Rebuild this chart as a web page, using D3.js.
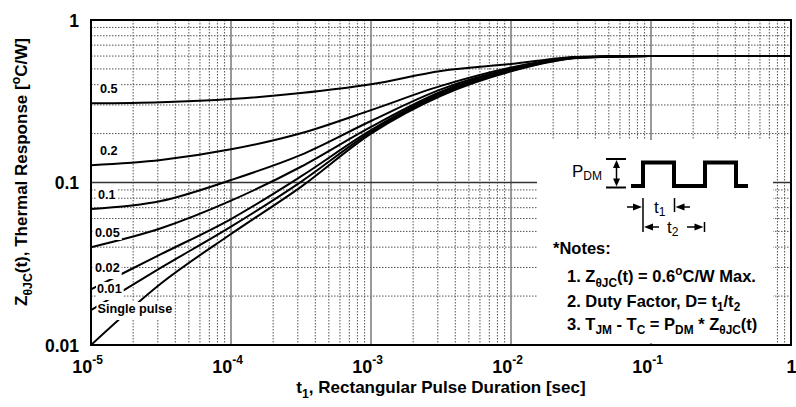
<!DOCTYPE html>
<html>
<head>
<meta charset="utf-8">
<script src="https://cdn.jsdelivr.net/npm/d3@7"></script>
<style>
  body { margin: 0; background: #fff; }
  svg text { font-family: "Liberation Sans", Arial, sans-serif; font-weight: bold; fill: #000; }
</style>
</head>
<body>
<div id="chart"></div>
<script>
// pulse duration samples (sec)
var durations = [1e-5, 3.16e-5, 1e-4, 3.16e-4, 1e-3, 3.16e-3, 1e-2, 3.16e-2, 1e-1, 1]

// Z thetaJC(t) per duty factor
var singlePulse = [0.0100, 0.0239, 0.0482, 0.094, 0.200, 0.342, 0.483, 0.585, 0.600, 0.600]
var duty001 = [0.0164, 0.0299, 0.0535, 0.101, 0.205, 0.349, 0.487, 0.587, 0.600, 0.600]
var duty002 = [0.0220, 0.0362, 0.0596, 0.109, 0.210, 0.354, 0.490, 0.588, 0.600, 0.600]
var duty005 = [0.0400, 0.0523, 0.0773, 0.125, 0.220, 0.362, 0.495, 0.589, 0.600, 0.600]
var duty01 = [0.0687, 0.0770, 0.1036, 0.148, 0.239, 0.374, 0.500, 0.590, 0.600, 0.600]
var duty02 = [0.1276, 0.1375, 0.160, 0.201, 0.279, 0.393, 0.510, 0.592, 0.600, 0.600]
var duty05 = [0.307, 0.312, 0.326, 0.355, 0.402, 0.486, 0.536, 0.595, 0.600, 0.600]

var seriesNames = ["Single pulse", "0.01", "0.02", "0.05", "0.1", "0.2", "0.5"]
var seriesValues = [singlePulse, duty001, duty002, duty005, duty01, duty02, duty05]

var xTicks = [1e-5, 1e-4, 1e-3, 1e-2, 1e-1, 1]
var xTickExp = ["-5", "-4", "-3", "-2", "-1", ""]
var yTicks = [0.01, 0.1, 1]
var yTickLabels = ["0.01", "0.1", "1"]

var W = 796, H = 407
var margin = {top: 20, right: 5, bottom: 62, left: 91}
var plotW = W - margin.left - margin.right,
    plotH = H - margin.top - margin.bottom

var svg = d3.select("#chart").append("svg")
    .attr("width", W)
    .attr("height", H)

var x = d3.scaleLog().domain([1e-5, 1]).range([margin.left, margin.left + plotW])
var y = d3.scaleLog().domain([0.01, 1]).range([margin.top + plotH, margin.top])

// minor grid values
var xMinor = [], yMinor = []
xTicks.slice(0, -1).forEach(function(d) { for (var k = 2; k <= 9; k++) xMinor.push(d * k) })
yTicks.slice(0, -1).forEach(function(d) { for (var k = 2; k <= 9; k++) yMinor.push(d * k) })

var grid = svg.append("g")
grid.selectAll(".vmin").data(xMinor).enter().append("line")
  .attr("x1", function(d) { return x(d) }).attr("x2", function(d) { return x(d) })
  .attr("y1", y(1)).attr("y2", y(0.01))
  .attr("stroke", "#555").attr("stroke-width", 1).attr("stroke-dasharray", "1.5,1.5")
grid.selectAll(".hmin").data(yMinor).enter().append("line")
  .attr("y1", function(d) { return y(d) }).attr("y2", function(d) { return y(d) })
  .attr("x1", x(1e-5)).attr("x2", x(1))
  .attr("stroke", "#555").attr("stroke-width", 1).attr("stroke-dasharray", "1.5,1.5")
grid.selectAll(".vmaj").data(xTicks.slice(1, -1)).enter().append("line")
  .attr("x1", function(d) { return x(d) }).attr("x2", function(d) { return x(d) })
  .attr("y1", y(1)).attr("y2", y(0.01))
  .attr("stroke", "#777").attr("stroke-width", 1.5)
grid.append("line")
  .attr("x1", x(1e-5)).attr("x2", x(1)).attr("y1", y(0.1)).attr("y2", y(0.1))
  .attr("stroke", "#333").attr("stroke-width", 1.3)

svg.append("clipPath").attr("id", "plotClip")
  .append("rect").attr("x", margin.left).attr("y", margin.top).attr("width", plotW).attr("height", plotH)

var line = d3.line()
  .x(function(d) { return x(d[0]) })
  .y(function(d) { return y(d[1]) })
  .curve(d3.curveMonotoneX)

svg.append("g").attr("clip-path", "url(#plotClip)")
  .selectAll(".curve").data(seriesValues).enter().append("path")
  .attr("class", "curve")
  .attr("fill", "none").attr("stroke", "#000").attr("stroke-width", 2)
  .attr("d", function(vals) { return line(durations.map(function(t, i) { return [t, vals[i]] })) })

// curve labels (left edge)
var labelPos = [[97.5, 313], [97, 293], [95, 272], [95, 237], [98, 198.5], [100, 154.5], [100, 92.5]]
var labels = svg.append("g")
seriesNames.forEach(function(name, i) {
  var g = labels.append("g")
  var t = g.append("text").attr("x", labelPos[i][0]).attr("y", labelPos[i][1])
    .attr("font-size", 12.7).text(name)
  var bb = t.node().getBBox()
  var padB = i < 3 ? 4 : 0
  g.insert("rect", "text").attr("x", bb.x - 1).attr("y", bb.y)
    .attr("width", bb.width + 3).attr("height", bb.height + padB).attr("fill", "#fff")
})

// inset box for notes
svg.append("rect").attr("x", 537).attr("y", 140).attr("width", 236).attr("height", 203).attr("fill", "#fff")

// frame
svg.append("rect").attr("x", margin.left).attr("y", margin.top).attr("width", plotW).attr("height", plotH)
  .attr("fill", "none").attr("stroke", "#000").attr("stroke-width", 2)

// y axis
var yAxis = svg.append("g").attr("transform", "translate(" + (margin.left - 12) + ",0)")
  .call(d3.axisLeft(y).tickValues(yTicks).tickSize(0).tickFormat(function(d, i) { return yTickLabels[i] }))
yAxis.select(".domain").remove()
yAxis.selectAll("text").attr("font-size", 17.5).attr("font-family", null).attr("x", 0).attr("dy", "0.36em")

// x axis
var xAxis = svg.append("g").attr("transform", "translate(0," + (margin.top + plotH) + ")")
  .call(d3.axisBottom(x).tickValues(xTicks).tickSize(0).tickFormat(""))
xAxis.select(".domain").remove()
xAxis.selectAll(".tick").each(function(d, i) {
  var tx = d3.select(this).select("text").attr("font-size", 18).attr("font-family", null)
    .attr("y", 28).attr("dy", 0)
  if (xTickExp[i] === "") {
    tx.text("1").attr("text-anchor", "middle")
  } else {
    tx.text("10").attr("text-anchor", "middle").attr("dx", "-0.22em")
    tx.append("tspan").attr("font-size", 12).attr("dy", -9).text(xTickExp[i])
  }
})

function rich(sel, parts, size) {
  var shift = 0
  parts.forEach(function(p) {
    var ts = sel.append("tspan").text(p[0])
    var target = 0
    if (p[1] === "sub") { target = size * 0.3; ts.attr("font-size", size * 0.72) }
    if (p[1] === "sup") { target = -size * 0.42; ts.attr("font-size", size * 0.72) }
    if (target !== shift) ts.attr("dy", target - shift)
    shift = target
  })
}

// axis titles
var xt = svg.append("text").attr("x", 441).attr("y", 393).attr("text-anchor", "middle").attr("font-size", 17)
rich(xt, [["t"], ["1", "sub"], [", Rectangular Pulse Duration [sec]"]], 17)

var yt = svg.append("text").attr("transform", "translate(27,172) rotate(-90)").attr("text-anchor", "middle").attr("font-size", 17)
rich(yt, [["Z"], ["\u03b8JC", "sub"], ["(t), Thermal Response ["], ["o", "sup"], ["C/W]"]], 17)

// pulse diagram
var inset = svg.append("g")
var pdm = inset.append("text").attr("x", 572).attr("y", 177).attr("font-size", 17).attr("font-weight", "normal")
pdm.append("tspan").text("P").attr("font-weight", "normal")
pdm.append("tspan").text("DM").attr("font-size", 12).attr("dy", 3).attr("font-weight", "normal")

inset.append("path").attr("d", "M631,186 H643 V162.5 H674 V186 H705 V162.5 H736 V186 H748")
  .attr("fill", "none").attr("stroke", "#000").attr("stroke-width", 4).attr("stroke-linejoin", "miter")

function arrowHead(cx, cy, dir) {
  var p
  if (dir === "up") p = [[cx, cy], [cx - 3.5, cy + 8], [cx + 3.5, cy + 8]]
  if (dir === "down") p = [[cx, cy], [cx - 3.5, cy - 8], [cx + 3.5, cy - 8]]
  if (dir === "right") p = [[cx, cy], [cx - 9, cy - 3.5], [cx - 9, cy + 3.5]]
  if (dir === "left") p = [[cx, cy], [cx + 9, cy - 3.5], [cx + 9, cy + 3.5]]
  inset.append("path").attr("d", "M" + p.join("L") + "Z").attr("fill", "#000")
}
function seg(x1, y1, x2, y2, w) {
  inset.append("line").attr("x1", x1).attr("y1", y1).attr("x2", x2).attr("y2", y2)
    .attr("stroke", "#000").attr("stroke-width", w || 1.5)
}
seg(606, 159, 626, 159, 2)
seg(606, 187.5, 626, 187.5, 2)
seg(616.5, 163, 616.5, 183.5, 1.5)
arrowHead(616.5, 160, "up")
arrowHead(616.5, 186.5, "down")

seg(643, 198, 643, 232)
seg(674.5, 198, 674.5, 212)
seg(704.5, 222, 704.5, 232)
seg(627, 207, 634, 207)
arrowHead(642, 207, "right")
seg(682, 207, 690, 207)
arrowHead(675.5, 207, "left")
arrowHead(644, 227, "left")
seg(652, 227, 659, 227)
seg(687, 227, 695, 227)
arrowHead(703.5, 227, "right")

var t1 = inset.append("text").attr("x", 654).attr("y", 213).attr("font-size", 17).attr("font-weight", "normal")
t1.append("tspan").text("t").attr("font-weight", "normal")
t1.append("tspan").text("1").attr("font-size", 12).attr("dy", 3).attr("font-weight", "normal")
var t2 = inset.append("text").attr("x", 667).attr("y", 233).attr("font-size", 17).attr("font-weight", "normal")
t2.append("tspan").text("t").attr("font-weight", "normal")
t2.append("tspan").text("2").attr("font-size", 12).attr("dy", 3).attr("font-weight", "normal")

// notes
inset.append("text").attr("x", 553).attr("y", 254).attr("font-size", 16.5).text("*Notes:")
var n1 = inset.append("text").attr("x", 567).attr("y", 282).attr("font-size", 16.5)
rich(n1, [["1. Z"], ["\u03b8JC", "sub"], ["(t) = 0.6"], ["o", "sup"], ["C/W Max."]], 16.5)
var n2 = inset.append("text").attr("x", 567).attr("y", 306.5).attr("font-size", 16.5)
rich(n2, [["2. Duty Factor, D= t"], ["1", "sub"], ["/t"], ["2", "sub"]], 16.5)
var n3 = inset.append("text").attr("x", 567).attr("y", 329.5).attr("font-size", 16.5)
rich(n3, [["3. T"], ["JM", "sub"], [" - T"], ["C", "sub"], [" = P"], ["DM", "sub"], [" * Z"], ["\u03b8JC", "sub"], ["(t)"]], 16.5)
</script>
</body>
</html>
